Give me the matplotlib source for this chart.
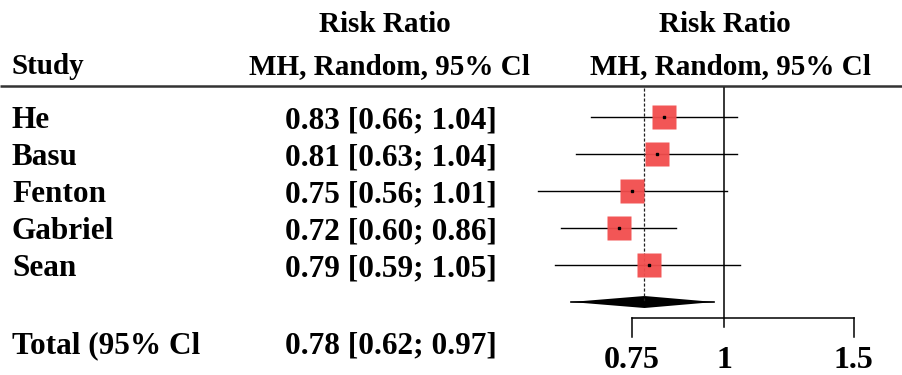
import numpy as np
import matplotlib
matplotlib.use("Agg")
import matplotlib.pyplot as plt

# study data (risk ratio with 95% CI)
studies = ["He", "Basu", "Fenton", "Gabriel", "Sean"]
rr = [0.83, 0.81, 0.75, 0.72, 0.79]
lower = [0.66, 0.63, 0.56, 0.60, 0.59]
upper = [1.04, 1.04, 1.01, 0.86, 1.05]

total_label = "Total (95% Cl"
total_rr = 0.78
total_lower = 0.62
total_upper = 0.97

xticks = [0.75, 1, 1.5]
xtick_labels = ["0.75", "1", "1.5"]

plt.rcParams["font.family"] = ["Liberation Serif", "DejaVu Serif"]
plt.rcParams["font.weight"] = "bold"

W, H = 903, 375
fig = plt.figure(figsize=(W / 100, H / 100), dpi=100)

# text layer, pixel-like layout coordinates
ax_t = fig.add_axes([0, 0, 1, 1])
ax_t.set_xlim(0, W)
ax_t.set_ylim(H, 0)
ax_t.axis("off")

# forest layer, log scale
ax_f = fig.add_axes([520 / W, 0, (W - 520) / W, 1])
ax_f.set_xscale("log")
ax_f.set_xlim(np.exp((520 - 724) / 320), np.exp((W - 724) / 320))
ax_f.set_ylim(H, 0)
ax_f.axis("off")

row_y = [117 + 37 * i for i in range(len(studies))]
diamond_y = 302
total_y = 342
fs_head = 21
fs = 22.5
va = "center_baseline"

# headers
ax_t.text(385, 22, "Risk Ratio", ha="center", va=va, fontsize=fs_head)
ax_t.text(389, 64, "MH, Random, 95% Cl", ha="center", va=va, fontsize=fs_head)
ax_t.text(725, 22, "Risk Ratio", ha="center", va=va, fontsize=fs_head)
ax_t.text(730, 64, "MH, Random, 95% Cl", ha="center", va=va, fontsize=fs_head)
ax_t.text(12, 64, "Study", ha="left", va=va, fontsize=fs_head)
ax_t.plot([0, W], [86, 86], color="#333333", lw=1.8, solid_capstyle="butt")

for name, r, lo, hi, y in zip(studies, rr, lower, upper, row_y):
    ax_t.text(12, y, name, ha="left", va=va, fontsize=fs)
    ax_t.text(497, y, f"{r:.2f} [{lo:.2f}; {hi:.2f}]", ha="right", va=va, fontsize=fs)
    ax_f.plot([lo, hi], [y, y], color="black", lw=1.0)
    ax_f.plot(r, y, marker="s", markersize=17.5, color="#f24d4d",
              markeredgecolor="none", alpha=0.95, zorder=3)
    ax_f.plot(r, y, marker="s", markersize=1.5, color="black", zorder=4)

ax_t.text(12, total_y, total_label, ha="left", va=va, fontsize=fs)
ax_t.text(497, total_y, f"{total_rr:.2f} [{total_lower:.2f}; {total_upper:.2f}]",
          ha="right", va=va, fontsize=fs)

# reference lines
ax_f.plot([1, 1], [88, 327], color="black", lw=1.1)
ax_f.plot([total_rr, total_rr], [88, diamond_y], color="#222222", lw=0.9,
          linestyle=(0, (2.5, 1.5)))

# pooled estimate
ax_f.plot([total_lower, total_upper], [diamond_y, diamond_y], color="black", lw=1.2)
ax_f.fill([total_lower, total_rr, total_upper, total_rr],
          [diamond_y, diamond_y - 6, diamond_y, diamond_y + 6],
          color="black", lw=0)

# x axis drawn by hand
ax_f.plot([xticks[0], xticks[-1]], [318, 318], color="black", lw=1.1)
for t, lab in zip(xticks, xtick_labels):
    if t != 1:
        ax_f.plot([t, t], [318, 337], color="black", lw=1.1)
    ax_f.text(t, 357, lab, ha="center", va=va, fontsize=23)

fig.savefig("out.png", dpi=100)
